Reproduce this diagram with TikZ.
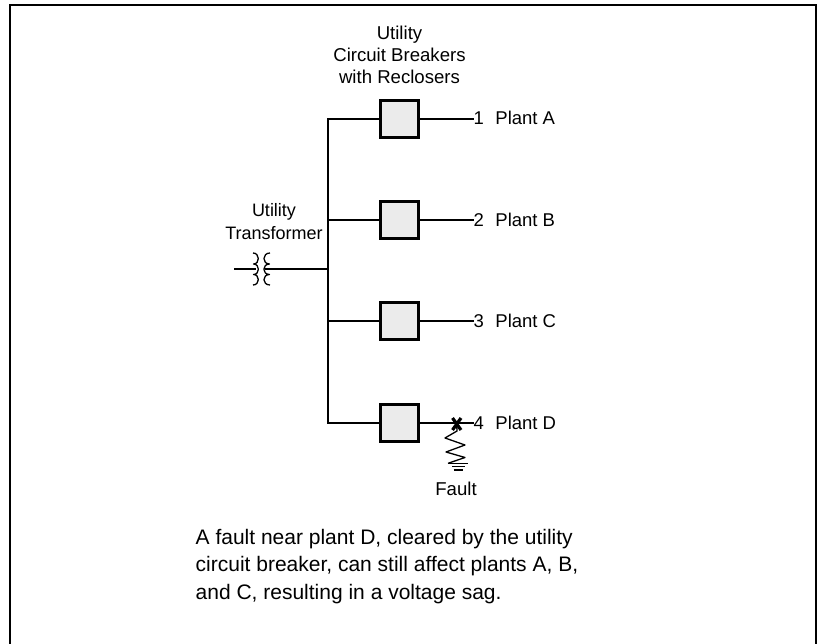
\documentclass[tikz,border=0pt]{standalone}
\usepackage{fontspec}
\setmainfont{Liberation Sans}
\tikzset{
  wire/.style={line width=2.5pt,line join=miter},
  thin wire/.style={line width=1.3pt,line join=round},
  breaker/.style={draw=black,line width=2.8pt,fill=black!8,minimum width=37.5pt,minimum height=37.5pt,inner sep=0pt},
  lab/.style={font=\fontsize{18.6pt}{22pt}\selectfont,inner sep=0pt,align=center},
  tlab/.style={font=\fontsize{18pt}{23pt}\selectfont,inner sep=0pt,align=center},
  plant/.style={font=\fontsize{18.5pt}{22pt}\selectfont,inner sep=0pt,anchor=west},
  caption/.style={font=\fontsize{21pt}{27.4pt}\selectfont,inner sep=0pt,align=left,anchor=north west}
}
\begin{document}
\begin{tikzpicture}[x=1pt,y=-1pt]
\useasboundingbox (0,0) rectangle (820,644);
\draw[line width=2.4pt] (10,644) -- (10,5) -- (816,5) -- (816,644);
% bus
\coordinate (bustop) at (328,119);
\coordinate (busbot) at (328,423);
\coordinate (busT) at (328,269);
\draw[wire,line cap=rect] (bustop) -- (busbot);
\node[breaker] (A) at (399.5,119) {};
\node[breaker] (B) at (399.5,220) {};
\node[breaker] (C) at (399.5,321) {};
\node[breaker] (D) at (399.5,423) {};
\node[plant] (pA) at (473.5,118) {1\hspace{0.62em}Plant A};
\node[plant] (pB) at (473.5,220) {2\hspace{0.62em}Plant B};
\node[plant] (pC) at (473.5,321) {3\hspace{0.62em}Plant C};
\node[plant] (pD) at (473.5,423) {4\hspace{0.62em}Plant D};
\coordinate (bA) at (328,119);
\coordinate (bB) at (328,220);
\coordinate (bC) at (328,321);
\coordinate (bD) at (328,423);
\draw[wire] (bA) -- (A.west);
\draw[wire] (bB) -- (B.west);
\draw[wire] (bC) -- (C.west);
\draw[wire] (bD) -- (D.west);
\draw[wire] (A.east) -- (pA.west|-A.east);
\draw[wire] (B.east) -- (pB.west|-B.east);
\draw[wire] (C.east) -- (pC.west|-C.east);
\draw[wire] (D.east) -- (pD.west|-D.east);
% transformer
\coordinate (tl) at (234,269);
\coordinate (tp1) at (255.5,269);
\coordinate (ts1) at (264.5,269);
\draw[wire] (tl) -- (tp1);
\draw[wire] (ts1) -- (busT);
\draw[thin wire] (253,253) .. controls (260,253) and (260,264) .. (253.5,264)
  .. controls (260,264) and (260,274.5) .. (253.5,274.5)
  .. controls (260,274.5) and (260,285) .. (253,285);
\draw[thin wire] (270,253) .. controls (262,253) and (262,264) .. (269.5,264)
  .. controls (262,264) and (262,274.5) .. (269.5,274.5)
  .. controls (262,274.5) and (262,285) .. (270,285);
% fault
\coordinate (fx) at (456.7,424);
\draw[line width=3.2pt] (452.5,418) -- (461,430) (461,418) -- (452.5,430);
\draw[thin wire] (fx) -- (457,431) -- (445,438) -- (465,445) -- (446,452) -- (465,457.5) -- (448,463.3);
\draw[thin wire] (448,463.3) -- (468,463.3);
\draw[thin wire] (452,466.8) -- (465,466.8);
\draw[thin wire] (453.5,470) -- (463,470);
% labels
\node[lab] (t1) at (399.5,55) {Utility\\Circuit Breakers\\with Reclosers};
\node[tlab] (t2) at (274,221.5) {Utility\\Transformer};
\node[lab] (f) at (456,489) {Fault};
\node[caption] (cap) at (195.5,529) {A fault near plant D, cleared by the utility\\circuit breaker, can still affect plants A, B,\\and C, resulting in a voltage sag.};
\end{tikzpicture}
\end{document}
